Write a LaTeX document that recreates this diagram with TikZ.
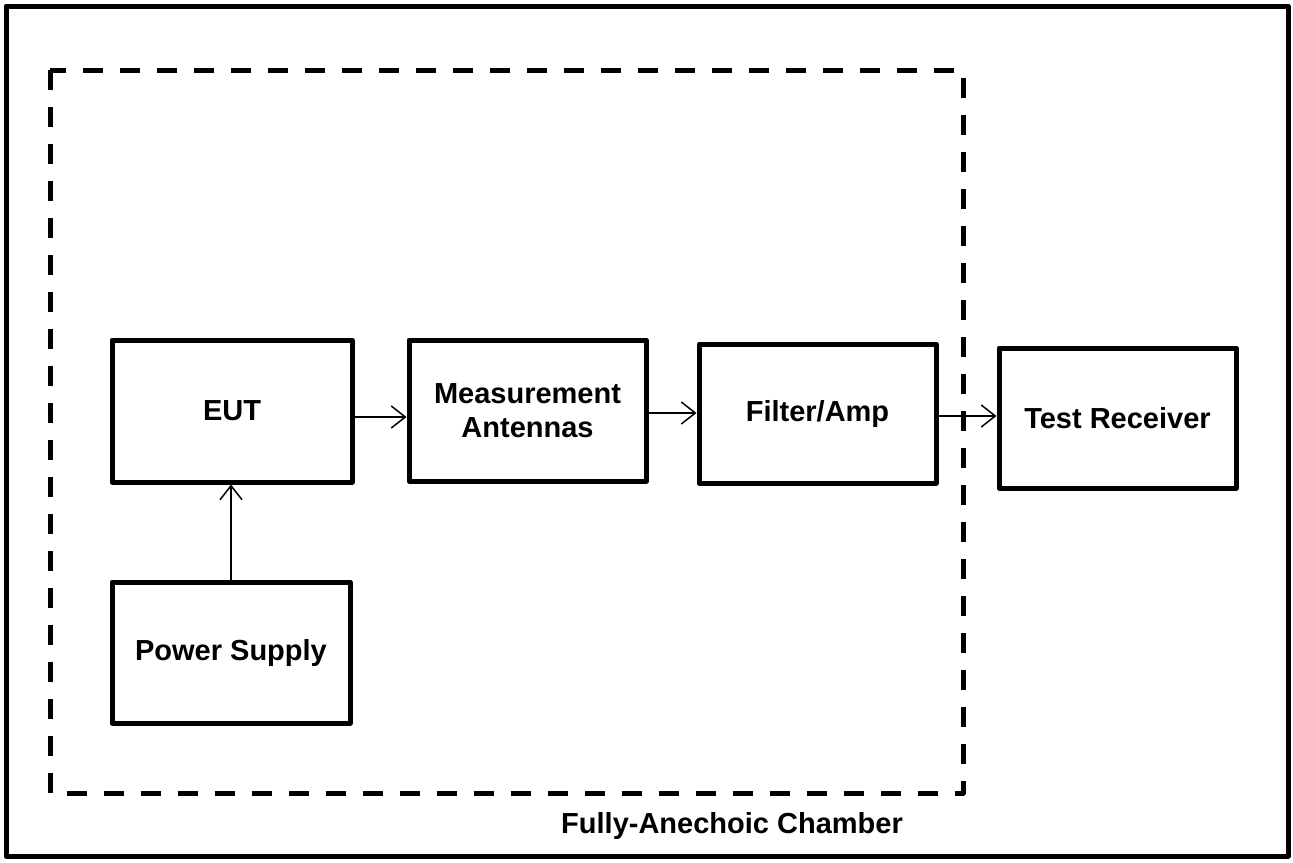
\documentclass[tikz,border=0pt]{standalone}
\usepackage{fontspec}
\setmainfont{Liberation Sans}
\usetikzlibrary{arrows.meta}
\begin{document}
\begin{tikzpicture}[x=1pt,y=-1pt,
  box/.style={draw=black, line width=5pt, line join=round, rectangle, inner sep=0pt, align=center,
    font=\fontsize{29}{34}\selectfont\bfseries},
  conn/.style={line width=1.5pt, -{Straight Barb[length=14pt,width=22pt,line width=1.5pt]}},
  frame/.style={line width=5pt, line join=round},
  chamber/.style={line width=5pt, dash pattern=on 20pt off 17pt, line join=round}]
\useasboundingbox (0,0) rectangle (1293,862);
\draw[frame] (6,6) rectangle (1288,856);
\draw[chamber] (50,70) rectangle (963,793);
\node[box, minimum width=240pt, minimum height=142pt] (eut) at (232,411) {EUT};
\node[box, minimum width=237pt, minimum height=141pt] (ma) at (527.5,410.5) {Measurement\\Antennas};
\node[box, minimum width=237pt, minimum height=139pt] (fa) at (817.5,413.5) {Filter/Amp};
\node[box, minimum width=237pt, minimum height=140pt] (tr) at (1117.5,418) {Test Receiver};
\node[box, minimum width=238pt, minimum height=141pt] (ps) at (231,652.5) {Power Supply};
\node[font=\fontsize{29}{34}\selectfont\bfseries] (lbl) at (732,826) {Fully-Anechoic Chamber};
\draw[conn] ([yshift=-6pt]eut.east) -- ([yshift=-6pt]eut.east -| ma.west);
\draw[conn] ([yshift=-2.5pt]ma.east) -- ([yshift=-2.5pt]ma.east -| fa.west);
\draw[conn] ([yshift=-2.5pt]fa.east) -- ([yshift=-2.5pt]fa.east -| tr.west);
\draw[conn] (ps.north) -- (ps.north |- eut.south);
\end{tikzpicture}
\end{document}
